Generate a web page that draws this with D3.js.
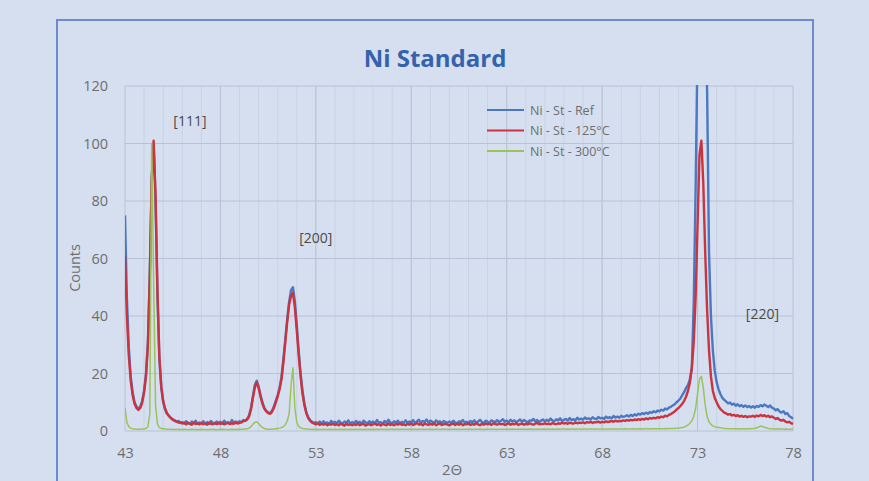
<!DOCTYPE html>
<html>
<head>
<meta charset="utf-8">
<script src="https://cdn.jsdelivr.net/npm/d3@7"></script>
<style>
  body { margin: 0; background: #d5dff0; }
  svg { display: block; }
  text { font-family: "Open Sans", Lato, sans-serif; }
</style>
</head>
<body>
<div id="chart"></div>
<script>
// Diffraction scans, sampled every 0.1 degree from 43.0 to 78.0
const xStart = 43;
const xStep = 0.1;

const countsRef = [
  75, 46, 29, 19, 13.5, 10, 8.5, 7.8, 8.5, 10.5,
  14, 20, 31, 55, 88, 100, 80, 47, 25, 15,
  10, 7.5, 6, 5.2, 4.6, 4, 3.8, 3.2, 3.5, 2.8,
  3.1, 2.6, 3.4, 2.9, 2.4, 3.3, 2.7, 3.6, 2.5, 3.0,
  2.7, 3.4, 2.6, 3.1, 2.4, 3.5, 2.8, 2.6, 3.3, 2.9,
  3.2, 2.5, 3.6, 2.8, 3.1, 2.6, 3.8, 2.9, 3.3, 3.0,
  3.4, 3.1, 3.8, 3.5, 4.2, 5.5, 8, 12, 16, 17.5,
  15.5, 12.5, 10, 8, 7, 6.5, 6.2, 7, 8.5, 10.5,
  12.5, 15, 19, 25, 32, 39, 45, 49, 50, 45,
  37, 28, 20, 14, 9.5, 6.5, 4.8, 3.8, 3.2, 2.8,
  3.1, 2.6, 3.3, 2.5, 3.4, 2.7, 3.0, 2.4, 3.5, 2.8,
  3.2, 2.6, 3.6, 2.9, 2.5, 3.3, 2.8, 3.7, 2.6, 3.1,
  2.7, 3.5, 2.9, 3.2, 2.5, 3.6, 3.0, 2.7, 3.4, 2.8,
  3.3, 2.6, 3.8, 2.9, 3.1, 2.5, 3.5, 2.8, 3.9, 3.0,
  2.7, 3.4, 2.9, 3.6, 2.6, 3.2, 2.8, 3.7, 2.9, 3.3,
  3.0, 3.8, 2.7, 3.4, 3.9, 2.8, 3.5, 3.1, 4.0, 2.9,
  3.6, 3.2, 2.8, 3.7, 3.0, 3.4, 2.7, 3.5, 3.1, 2.9,
  3.3, 2.8, 3.6, 3.0, 2.7, 3.4, 3.1, 3.8, 2.9, 3.2,
  2.8, 3.5, 3.0, 3.7, 2.9, 3.3, 3.9, 3.1, 2.8, 3.6,
  3.2, 2.9, 3.7, 3.4, 3.0, 3.8, 3.1, 3.5, 4.1, 3.2,
  3.6, 3.0, 3.9, 3.3, 3.7, 3.1, 3.5, 4.0, 3.2, 3.8,
  3.4, 3.0, 3.7, 3.5, 4.2, 3.3, 3.8, 3.1, 3.6, 4.0,
  3.3, 3.9, 3.5, 4.3, 3.6, 3.4, 4.1, 3.7, 4.4, 3.5,
  3.9, 4.2, 3.6, 4.5, 3.8, 4.1, 3.7, 4.6, 4.0, 4.3,
  3.9, 4.7, 4.2, 4.4, 4.0, 4.8, 4.3, 4.1, 4.9, 4.4,
  4.6, 4.2, 5.0, 4.5, 4.8, 4.4, 5.2, 4.7, 5.0, 4.6,
  5.3, 4.9, 5.1, 5.5, 5.0, 5.6, 5.2, 5.8, 5.4, 6.0,
  5.7, 6.2, 5.9, 6.4, 6.0, 6.6, 6.3, 6.9, 6.5, 7.1,
  6.8, 7.4, 7.1, 7.8, 7.5, 8.1, 8.4, 8.9, 9.3, 10,
  10.6, 11.3, 12.5, 13.6, 15, 16, 18, 22, 45, 85,
  135, 185, 200, 185, 150, 118, 62, 40, 28, 21,
  17, 14.5, 12.8, 11.5, 10.8, 10.2, 9.6, 9.9, 9.2, 9.5,
  8.8, 9.3, 8.6, 9.0, 8.4, 8.9, 8.3, 8.7, 8.2, 8.6,
  8.1, 8.7, 8.4, 9.0, 8.6, 9.2, 8.8, 8.3, 8.9, 8.1,
  7.8, 7.2, 7.6, 6.8, 6.4, 6.9, 5.9, 6.2, 5.2, 4.8,
  4.2
];

const counts125 = [
  61, 40, 26, 17.5, 12.5, 9.5, 8, 7.3, 8, 9.8,
  13.5, 19, 30, 54, 87, 101, 82, 49, 26, 15.5,
  10.5, 7.8, 6.2, 5.3, 4.5, 4.0, 3.5, 3.3, 2.9, 3.1,
  2.6, 2.9, 2.3, 2.8, 2.5, 2.2, 2.9, 2.4, 2.7, 2.3,
  2.8, 2.4, 2.6, 2.2, 2.9, 2.5, 2.3, 2.8, 2.4, 2.7,
  2.5, 2.9, 2.3, 2.6, 2.8, 2.4, 2.7, 2.5, 2.9, 2.6,
  2.8, 3.0, 3.4, 3.6, 4.0, 5.0, 7.5, 11.5, 15, 17,
  15, 12, 9.5, 7.8, 6.8, 6.2, 6, 6.6, 8, 10,
  12, 14.5, 18, 24, 31, 38, 44, 47, 48, 43,
  35, 26.5, 19, 13, 9, 6.2, 4.5, 3.5, 2.9, 2.6,
  2.3, 2.7, 2.1, 2.5, 2.2, 2.6, 2.0, 2.4, 2.2, 2.5,
  2.1, 2.4, 2.0, 2.6, 2.2, 1.9, 2.5, 2.1, 2.3, 2.0,
  2.4, 2.1, 2.6, 2.0, 2.3, 2.5, 1.9, 2.2, 2.4, 2.0,
  2.3, 2.6, 2.1, 2.4, 1.9, 2.5, 2.2, 2.0, 2.6, 2.1,
  2.4, 2.0, 2.5, 2.2, 2.7, 2.1, 2.3, 2.0, 2.5, 2.2,
  2.6, 2.1, 2.4, 2.8, 2.2, 2.5, 2.0, 2.6, 2.3, 2.1,
  2.5, 2.2, 2.7, 2.0, 2.4, 2.6, 2.1, 2.3, 2.5, 2.2,
  2.0, 2.4, 2.6, 2.1, 2.5, 2.2, 2.7, 2.0, 2.4, 2.3,
  2.6, 2.1, 2.4, 2.2, 2.7, 2.3, 2.0, 2.5, 2.2, 2.6,
  2.3, 2.5, 2.1, 2.7, 2.4, 2.2, 2.6, 2.3, 2.5, 2.1,
  2.4, 2.7, 2.2, 2.5, 2.3, 2.8, 2.1, 2.4, 2.6, 2.2,
  2.5, 2.3, 2.7, 2.4, 2.2, 2.6, 2.8, 2.3, 2.5, 2.4,
  2.7, 2.4, 2.6, 2.3, 2.8, 2.5, 2.4, 2.7, 2.5, 2.9,
  2.6, 2.8, 2.5, 2.9, 2.7, 2.6, 3.0, 2.7, 2.9, 2.8,
  3.0, 2.7, 3.1, 2.9, 3.2, 2.8, 3.1, 3.0, 3.3, 2.9,
  3.2, 3.0, 3.4, 3.1, 3.3, 3.5, 3.2, 3.6, 3.3, 3.5,
  3.4, 3.7, 3.5, 3.8, 3.6, 3.9, 3.7, 4.0, 3.8, 4.1,
  3.9, 4.2, 4.0, 4.4, 4.1, 4.5, 4.3, 4.6, 4.4, 4.8,
  4.6, 5.0, 4.8, 5.3, 5.1, 5.6, 5.9, 6.3, 6.8, 7.4,
  8.0, 8.7, 9.5, 10.5, 12, 14, 17, 22, 31, 47,
  72, 96, 101, 86, 62, 42, 28, 19, 14, 11.5,
  10, 8.6, 7.6, 7.0, 6.4, 6.1, 5.7, 5.9, 5.4, 5.6,
  5.2, 5.5, 5.0, 5.3, 4.9, 5.2, 4.8, 5.1, 5.0, 5.3,
  4.9, 5.4, 5.1, 5.6, 5.2, 5.5, 5.0, 5.3, 4.8, 5.1,
  4.6, 4.2, 4.5, 3.9, 3.6, 3.9, 3.3, 3.0, 3.2, 2.7,
  2.5
];

const counts300 = [
  8, 3, 1.5, 1, 0.8, 0.7, 0.6, 0.6, 0.6, 0.7,
  0.8, 0.9, 1.5, 6, 100, 52, 9, 2.5, 1.2, 0.9,
  0.8, 0.7, 0.6, 0.6, 0.5, 0.6, 0.5, 0.5, 0.6, 0.5,
  0.5, 0.6, 0.5, 0.4, 0.5, 0.6, 0.5, 0.5, 0.4, 0.5,
  0.6, 0.5, 0.5, 0.4, 0.5, 0.5, 0.6, 0.5, 0.4, 0.5,
  0.5, 0.6, 0.5, 0.5, 0.4, 0.5, 0.6, 0.5, 0.5, 0.6,
  0.5, 0.6, 0.6, 0.7, 0.8, 1.0, 1.5, 2.3, 3.0, 3.2,
  2.6, 1.8, 1.2, 0.9, 0.7, 0.6, 0.6, 0.6, 0.7, 0.8,
  0.9, 1.0, 1.2, 1.5, 2.2, 3.5, 6, 16, 22, 8,
  3, 1.6, 1.1, 0.9, 0.8, 0.7, 0.6, 0.6, 0.5, 0.6,
  0.5, 0.6, 0.5, 0.5, 0.6, 0.5, 0.5, 0.6, 0.5, 0.5,
  0.6, 0.5, 0.5, 0.6, 0.5, 0.6, 0.5, 0.5, 0.6, 0.5,
  0.5, 0.6, 0.5, 0.6, 0.5, 0.5, 0.6, 0.5, 0.6, 0.5,
  0.6, 0.5, 0.6, 0.5, 0.6, 0.6, 0.5, 0.6, 0.5, 0.6,
  0.6, 0.5, 0.6, 0.6, 0.5, 0.6, 0.6, 0.5, 0.6, 0.6,
  0.5, 0.6, 0.6, 0.5, 0.6, 0.6, 0.6, 0.5, 0.6, 0.6,
  0.6, 0.5, 0.6, 0.6, 0.6, 0.5, 0.6, 0.6, 0.6, 0.6,
  0.5, 0.6, 0.6, 0.6, 0.6, 0.5, 0.6, 0.6, 0.6, 0.6,
  0.6, 0.6, 0.5, 0.6, 0.6, 0.6, 0.6, 0.6, 0.5, 0.6,
  0.6, 0.6, 0.6, 0.6, 0.6, 0.5, 0.6, 0.6, 0.6, 0.6,
  0.6, 0.6, 0.6, 0.7, 0.6, 0.6, 0.6, 0.6, 0.7, 0.6,
  0.6, 0.6, 0.7, 0.6, 0.6, 0.6, 0.7, 0.6, 0.6, 0.7,
  0.6, 0.6, 0.7, 0.6, 0.7, 0.6, 0.6, 0.7, 0.6, 0.7,
  0.7, 0.6, 0.7, 0.6, 0.7, 0.7, 0.6, 0.7, 0.7, 0.6,
  0.7, 0.7, 0.6, 0.7, 0.7, 0.7, 0.6, 0.7, 0.7, 0.7,
  0.7, 0.7, 0.7, 0.6, 0.7, 0.7, 0.7, 0.7, 0.7, 0.7,
  0.7, 0.7, 0.8, 0.7, 0.7, 0.7, 0.8, 0.7, 0.7, 0.8,
  0.7, 0.8, 0.7, 0.8, 0.8, 0.7, 0.8, 0.8, 0.8, 0.8,
  0.8, 0.8, 0.8, 0.9, 0.8, 0.9, 0.9, 0.9, 0.9, 1.0,
  1.0, 1.1, 1.2, 1.4, 1.7, 2.1, 2.7, 3.6, 5, 8,
  13, 18, 19, 15, 9, 5, 3.2, 2.3, 1.8, 1.5,
  1.3, 1.2, 1.1, 1.0, 0.9, 0.9, 0.8, 0.8, 0.8, 0.8,
  0.8, 0.8, 0.7, 0.8, 0.8, 0.7, 0.8, 0.8, 0.8, 0.9,
  0.9, 1.1, 1.4, 1.7, 1.6, 1.3, 1.1, 0.9, 0.8, 0.8,
  0.7, 0.7, 0.8, 0.7, 0.7, 0.6, 0.7, 0.6, 0.6, 0.6,
  0.6
];

const seriesNames = ['Ni - St - Ref', 'Ni - St - 125°C', 'Ni - St - 300°C'];
const seriesColors = ['#4a78c2', '#c9343f', '#9cc35a'];
const xTicks = [43, 48, 53, 58, 63, 68, 73, 78];
const yTicks = [0, 20, 40, 60, 80, 100, 120];
const peakLabels = [
  { text: '[111]', x: 46.4, y: 106 },
  { text: '[200]', x: 53.0, y: 65.5 },
  { text: '[220]', x: 76.4, y: 39 }
];

const width = 869;
const height = 481;
const plot = { left: 125, right: 793, top: 86, bottom: 431 };
const labelFont = '"Open Sans", Lato, sans-serif';

const svg = d3.select('#chart')
  .append('svg')
  .attr('width', width)
  .attr('height', height);

// chart area frame
svg.append('rect')
  .attr('x', 0).attr('y', 0)
  .attr('width', width).attr('height', height)
  .attr('fill', '#d5dff0');

svg.append('path')
  .attr('d', `M57,${height} V20 H813 V${height}`)
  .attr('fill', 'none')
  .attr('stroke', '#6e8ccb')
  .attr('stroke-width', 2);

const x = d3.scaleLinear().domain([43, 78]).range([plot.left, plot.right]);
const y = d3.scaleLinear().domain([0, 120]).range([plot.bottom, plot.top]);

// minor vertical grid (every degree)
svg.append('g')
  .selectAll('line')
  .data(d3.range(44, 78))
  .enter().append('line')
  .attr('x1', d => x(d)).attr('x2', d => x(d))
  .attr('y1', plot.top).attr('y2', plot.bottom)
  .attr('stroke', '#c9d2e3')
  .attr('stroke-width', 1);

// major grid
svg.append('g')
  .selectAll('line')
  .data(xTicks)
  .enter().append('line')
  .attr('x1', d => x(d)).attr('x2', d => x(d))
  .attr('y1', plot.top).attr('y2', plot.bottom)
  .attr('stroke', '#b8c2d4')
  .attr('stroke-width', 1);

svg.append('g')
  .selectAll('line')
  .data(yTicks)
  .enter().append('line')
  .attr('x1', plot.left).attr('x2', plot.right)
  .attr('y1', d => y(d)).attr('y2', d => y(d))
  .attr('stroke', '#b8c2d4')
  .attr('stroke-width', 1);

// axes labels
const xAxis = svg.append('g')
  .attr('transform', `translate(0,${plot.bottom})`)
  .call(d3.axisBottom(x).tickValues(xTicks).tickSize(0).tickPadding(17));
const yAxis = svg.append('g')
  .attr('transform', `translate(${plot.left},0)`)
  .call(d3.axisLeft(y).tickValues(yTicks).tickSize(0).tickPadding(17));
[xAxis, yAxis].forEach(a => {
  a.select('.domain').remove();
  a.selectAll('text')
    .attr('fill', '#6e6e6e')
    .style('font-size', '14.5px')
    .style('font-family', labelFont);
});

svg.append('text')
  .attr('x', 452).attr('y', 475)
  .attr('text-anchor', 'middle')
  .attr('fill', '#6e6e6e')
  .style('font-size', '15px')
  .text('2Θ');

svg.append('text')
  .attr('transform', 'translate(80,268) rotate(-90)')
  .attr('text-anchor', 'middle')
  .attr('fill', '#6e6e6e')
  .style('font-size', '14.5px')
  .text('Counts');

svg.append('text')
  .attr('x', 435).attr('y', 67)
  .attr('text-anchor', 'middle')
  .attr('fill', '#3462ab')
  .style('font-size', '24px')
  .style('font-weight', 'bold')
  .text('Ni Standard');

// series
svg.append('clipPath').attr('id', 'plot-clip')
  .append('rect')
  .attr('x', plot.left).attr('y', plot.top - 1)
  .attr('width', plot.right - plot.left + 1)
  .attr('height', plot.bottom - plot.top + 3);

const line = d3.line()
  .x((d, i) => x(xStart + i * xStep))
  .y(d => y(d));

const allSeries = [countsRef, counts125, counts300];
const lineWidths = [2.4, 2.4, 1.5];

svg.append('g')
  .attr('clip-path', 'url(#plot-clip)')
  .selectAll('path')
  .data(allSeries)
  .enter().append('path')
  .attr('d', d => line(d))
  .attr('fill', 'none')
  .attr('stroke', (d, i) => seriesColors[i])
  .attr('stroke-width', (d, i) => lineWidths[i])
  .attr('stroke-linejoin', 'round');

// peak labels
svg.append('g')
  .selectAll('text')
  .data(peakLabels)
  .enter().append('text')
  .attr('x', d => x(d.x))
  .attr('y', d => y(d.y))
  .attr('text-anchor', 'middle')
  .attr('fill', '#4a4a4a')
  .style('font-size', '14px')
  .text(d => d.text);

// legend
const legend = svg.append('g').attr('transform', 'translate(487,110)');
seriesNames.forEach((name, i) => {
  const row = legend.append('g').attr('transform', `translate(0,${i * 20.5})`);
  row.append('line')
    .attr('x1', 0).attr('x2', 37)
    .attr('y1', 0).attr('y2', 0)
    .attr('stroke', seriesColors[i])
    .attr('stroke-width', 2);
  row.append('text')
    .attr('x', 43).attr('y', 4.5)
    .attr('fill', '#6e6e6e')
    .style('font-size', '12.5px')
    .text(name);
});
</script>
</body>
</html>
